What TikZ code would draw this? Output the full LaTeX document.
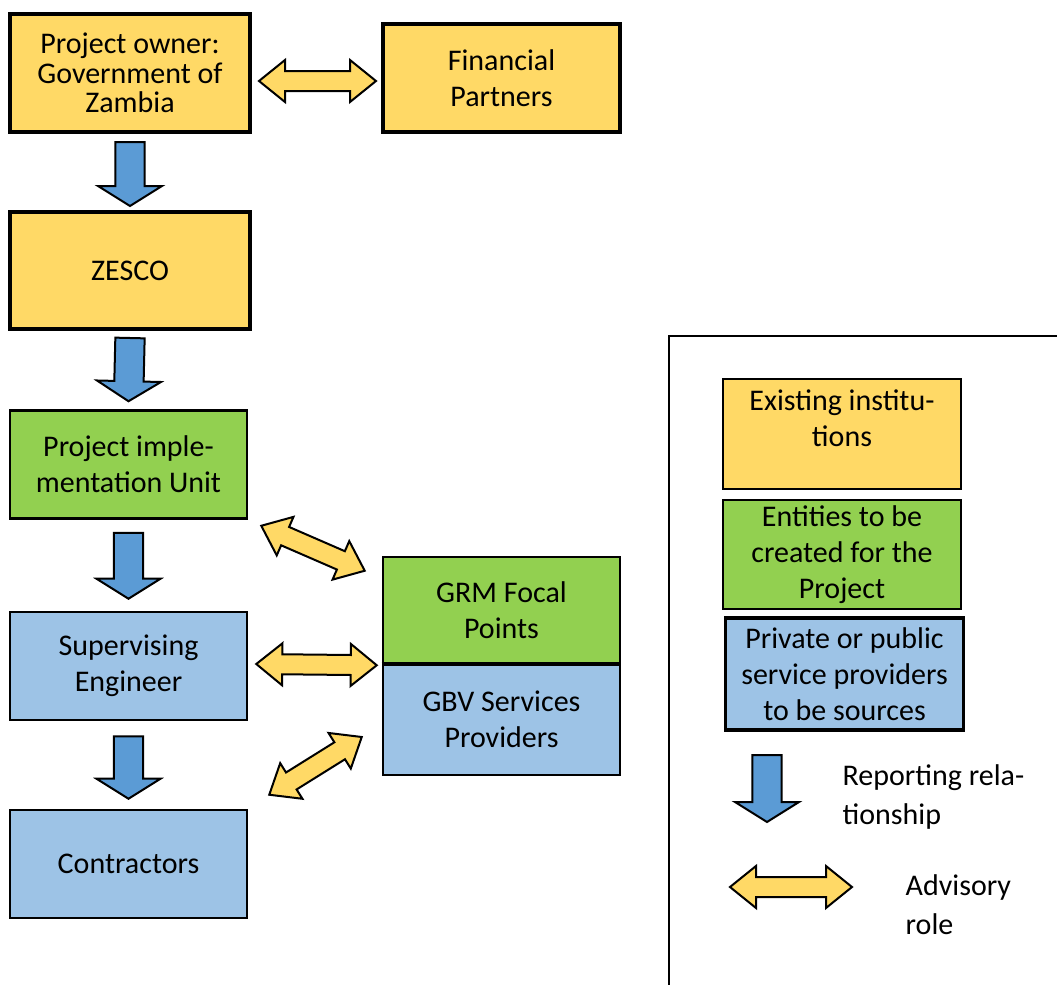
\documentclass[tikz,border=0pt]{standalone}
\usepackage{fontspec}
\setmainfont{Carlito}
\usetikzlibrary{calc}
\definecolor{instyellow}{HTML}{FFD966}
\definecolor{newgreen}{HTML}{92D050}
\definecolor{provblue}{HTML}{9DC3E6}
\definecolor{repblue}{HTML}{5B9BD5}
% fat arrow from #1 (tail) to #2 (tip)
\newcommand{\repArrow}[2]{%
  \coordinate (rh) at ($(#2)!15pt!(#1)$);
  \draw[repline] ($(#1)!11pt!90:(#2)$) -- ($(rh)!11pt!-90:(#1)$) -- ($(rh)!24pt!-90:(#1)$) -- (#2)
    -- ($(rh)!24pt!90:(#1)$) -- ($(rh)!11pt!90:(#1)$) -- ($(#1)!11pt!-90:(#2)$) -- cycle;
}
% fat two-headed arrow between #1 and #2
\newcommand{\advArrow}[2]{%
  \coordinate (ha) at ($(#1)!19.5pt!(#2)$);
  \coordinate (hb) at ($(#2)!19.5pt!(#1)$);
  \draw[advline] (#1) -- ($(ha)!15.75pt!90:(#2)$) -- ($(ha)!7.5pt!90:(#2)$) -- ($(hb)!7.5pt!-90:(#1)$)
    -- ($(hb)!15.75pt!-90:(#1)$) -- (#2) -- ($(hb)!15.75pt!90:(#1)$) -- ($(hb)!7.5pt!90:(#1)$)
    -- ($(ha)!7.5pt!-90:(#2)$) -- ($(ha)!15.75pt!-90:(#2)$) -- cycle;
}
\begin{document}
\begin{tikzpicture}[x=0.75pt,y=-0.75pt,line join=miter,
    box/.style={draw,line width=1.9pt,minimum width=177.75pt,minimum height=81pt,align=center,
      inner sep=2pt,font=\fontsize{22.5}{27}\selectfont},
    oldbox/.style={box,fill=instyellow,line width=3pt},
    newbox/.style={box,fill=newgreen},
    provbox/.style={box,fill=provblue},
    repline/.style={draw,line width=1.5pt,fill=repblue},
    advline/.style={draw,line width=1.5pt,fill=instyellow},
    legtext/.style={align=left,anchor=west,font=\fontsize{22.5}{29}\selectfont}]
  \useasboundingbox (0,0) rectangle (1057,985);

  \node[oldbox,minimum width=180pt,minimum height=88.5pt,font=\fontsize{22.5}{22}\selectfont] (owner) at (130,73)
    {Project owner:\\Government of\\Zambia};
  \node[oldbox] (financial) at (501.5,78) {Financial\\Partners};
  \node[oldbox,minimum width=180pt,minimum height=87.75pt] (zesco) at (130,270.5) {ZESCO};
  \node[newbox] (piu) at (128.5,464.5) {Project imple-\\mentation Unit};
  \node[provbox] (supervising) at (128.5,666) {Supervising\\Engineer};
  \node[provbox] (contractors) at (128.5,864) {Contractors};
  \node[newbox,minimum height=79.5pt] (grm) at (501.5,610) {GRM Focal\\Points};
  \node[provbox,minimum height=84pt] (gbv) at (501.5,719) {GBV Services\\Providers};
  \draw[line width=3pt] (grm.south west) -- (grm.south east);

  % reporting lines
  \repArrow{$(owner.south)+(0,8)$}{$(zesco.north)+(0,-4)$}
  \repArrow{$(zesco.south)+(0,7)$}{$(piu.north)+(0,-8)$}
  \repArrow{$(piu.south)+(0,13)$}{$(supervising.north)+(0,-12)$}
  \repArrow{$(supervising.south)+(0,15)$}{$(contractors.north)+(0,-10)$}

  % advisory roles
  \advArrow{$(owner.east)+(7,8)$}{$(financial.west)+(-5,3)$}
  \advArrow{$(piu.south east)+(13,6)$}{$(grm.north west)+(-17,15)$}
  \advArrow{$(supervising.east)+(8,-2)$}{$(grm.south west)+(-5,1)$}
  \advArrow{$(contractors.north east)+(21,-14)$}{$(gbv.west)+(-20,18)$}

  % legend
  \draw[line width=1.5pt] (1057,336) -- (669,336) -- (669,985);
  \node[oldbox,line width=1.9pt,minimum width=178.5pt,minimum height=82.5pt] (legold) at (842,434)
    {Existing institu-\\tions\\[-12pt] \strut};
  \node[newbox,minimum width=178.5pt,minimum height=81.75pt] (legnew) at (842,554.5)
    {Entities to be\\created for the\\Project};
  \node[provbox,line width=2.6pt,minimum width=178.5pt,minimum height=84pt] (legprov) at (844.5,674)
    {Private or public\\service providers\\to be sources};
  \coordinate (reptail) at (767,755);
  \coordinate (reptip) at (767,822);
  \repArrow{reptail}{reptip}
  \node[legtext] (reptext) at (838,797) {Reporting rela-\\tionship};
  \coordinate (advleft) at (730,887);
  \coordinate (advright) at (852,887);
  \advArrow{advleft}{advright}
  \node[legtext] (advtext) at (901,905) {Advisory\\role};
\end{tikzpicture}
\end{document}
